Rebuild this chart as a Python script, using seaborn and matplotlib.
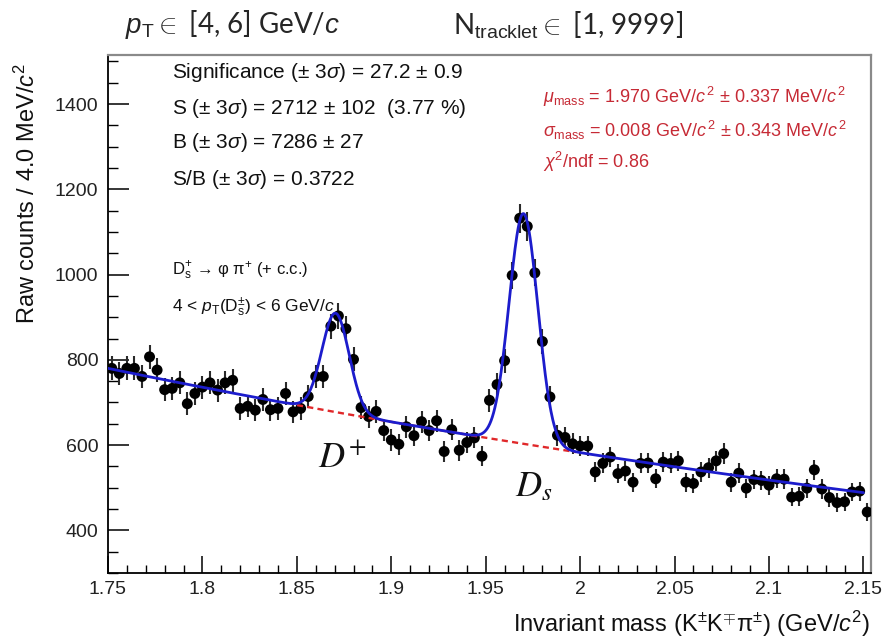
import numpy as np
import pandas as pd
import matplotlib
matplotlib.use("Agg")
import matplotlib.pyplot as plt
import seaborn as sns
from matplotlib.ticker import MultipleLocator, FuncFormatter

# ---------------- data ----------------
bin_first_center = 1.752
bin_width = 0.004
counts = [780, 768, 780, 780, 761, 807, 776, 730, 733, 746,
          697, 721, 736, 746, 729, 746, 752, 686, 691, 682,
          707, 683, 686, 721, 678, 686, 714, 761, 761, 879,
          903, 873, 801, 688, 667, 679, 634, 612, 602, 643,
          622, 655, 634, 657, 585, 636, 588, 606, 617, 574,
          705, 742, 798, 998, 1132, 1113, 1004, 843, 713, 623,
          618, 603, 598, 598, 537, 557, 572, 533, 539, 513,
          557, 558, 521, 560, 557, 563, 513, 510, 537, 547,
          563, 580, 513, 534, 499, 519, 517, 506, 521, 520,
          478, 480, 499, 542, 497, 477, 465, 467, 490, 492, 443]

# fit parameters (exponential background + two gaussians)
bg_norm, bg_slope, bg_ref = 780.0, -1.17, 1.75
dplus_amp, dplus_mu, dplus_sigma = 232.0, 1.8705, 0.0072
ds_amp, ds_mu, ds_sigma = 540.0, 1.970, 0.0076

x_ticks_fmt = "%g"

# ---------------- style ----------------
sns.set_theme(style="ticks")
plt.rcParams["font.family"] = ["Liberation Sans", "DejaVu Sans"]
plt.rcParams["mathtext.fontset"] = "custom"
plt.rcParams["mathtext.rm"] = "Liberation Sans"
plt.rcParams["mathtext.it"] = "Liberation Sans:italic"
plt.rcParams["mathtext.bf"] = "Liberation Sans:bold"

mass = bin_first_center + bin_width * np.arange(len(counts))
df = pd.DataFrame({"mass": mass, "counts": counts})
df["err"] = np.sqrt(df["counts"])

xf = np.linspace(1.75, 2.15, 1200)
bg = bg_norm * np.exp(bg_slope * (xf - bg_ref))
total = (bg + dplus_amp * np.exp(-0.5 * ((xf - dplus_mu) / dplus_sigma) ** 2)
         + ds_amp * np.exp(-0.5 * ((xf - ds_mu) / ds_sigma) ** 2))
fit_df = pd.DataFrame({"mass": xf, "total": total, "bg": bg})
bg_part = fit_df[(fit_df.mass >= 1.850) & (fit_df.mass <= 1.998)]

fig = plt.figure(figsize=(8.83, 6.38), dpi=100)
ax = fig.add_axes([0.1223, 0.1019, 0.8641, 0.8119])

ax.errorbar(df["mass"], df["counts"], yerr=df["err"], fmt="none",
            ecolor="#2a2a2a", elinewidth=1.5, capsize=0, zorder=2)
sns.scatterplot(data=df, x="mass", y="counts", ax=ax, color="black",
                s=62, edgecolor="none", zorder=3, legend=False)
ax.plot(bg_part["mass"], bg_part["bg"], color="#e0282a", lw=1.7,
        dashes=(2.6, 1.8), zorder=4)
sns.lineplot(data=fit_df, x="mass", y="total", ax=ax, color="#1c1ccc",
             lw=2.0, zorder=5, estimator=None, sort=False)

ax.set_xlim(1.75, 2.154)
ax.set_ylim(300, 1515)
ax.set_xlabel("")
ax.set_ylabel("")

ax.xaxis.set_major_locator(MultipleLocator(0.05))
ax.xaxis.set_minor_locator(MultipleLocator(0.01))
ax.yaxis.set_major_locator(MultipleLocator(200))
ax.yaxis.set_minor_locator(MultipleLocator(50))
ax.xaxis.set_major_formatter(FuncFormatter(lambda v, p: x_ticks_fmt % round(v, 3)))
ax.tick_params(axis="x", which="major", direction="in", length=12, width=1.1,
               labelsize=14, pad=6, color="black", labelcolor="#222222")
ax.tick_params(axis="x", which="minor", direction="in", length=6, width=1.0,
               color="black")
ax.tick_params(axis="y", which="major", direction="in", length=15, width=1.1,
               labelsize=14, pad=7, color="black", labelcolor="#222222")
ax.tick_params(axis="y", which="minor", direction="in", length=7, width=1.0,
               color="black")
for side in ["left", "bottom"]:
    ax.spines[side].set_color("black")
    ax.spines[side].set_linewidth(1.3)
for side in ["top", "right"]:
    ax.spines[side].set_color("#8a8a8a")
    ax.spines[side].set_linewidth(1.6)

# ---------------- texts ----------------
title_fam = ["Lato", "DejaVu Sans"]
fig.text(0.141, 0.961, r"$p_{\mathrm{T}} \in$ [4, 6] GeV/$c$", fontsize=20,
         family=title_fam, ha="left", va="center")
fig.text(0.513, 0.961, r"N$_{\mathrm{tracklet}} \in$ [1, 9999]", fontsize=20,
         family=title_fam, ha="left", va="center")

fig.text(0.031, 0.697, r"Raw counts / 4.0 MeV/$c^{2}$", rotation=90,
         fontsize=17, ha="center", va="center", color="#111111")
fig.text(0.985, 0.022, r"Invariant mass (K$^{\pm}$K$^{\mp}$π$^{\pm}$) (GeV/$c^{2}$)",
         fontsize=17, ha="right", va="center", color="#111111")

stats = [r"Significance ($\pm$ 3$\sigma$) = 27.2 ± 0.9",
         r"S ($\pm$ 3$\sigma$) = 2712 ± 102  (3.77 %)",
         r"B ($\pm$ 3$\sigma$) = 7286 ± 27",
         r"S/B ($\pm$ 3$\sigma$) = 0.3722"]
for txt, yy in zip(stats, [0.8856, 0.8307, 0.7759, 0.7179]):
    fig.text(0.195, yy, txt, fontsize=15, ha="left", va="center", color="#111111")

red = "#c62a35"
fit_txt = [r"$\mu_{\mathrm{mass}}$ = 1.970 GeV/$c^{\,2}$ ± 0.337 MeV/$c^{\,2}$",
           r"$\sigma_{\mathrm{mass}}$ = 0.008 GeV/$c^{\,2}$ ± 0.343 MeV/$c^{\,2}$",
           r"$\chi^{2}$/ndf = 0.86"]
for txt, yy in zip(fit_txt, [0.848, 0.796, 0.746]):
    fig.text(0.615, yy, txt, fontsize=13, ha="left", va="center", color=red)

fig.text(0.195, 0.575, r"D$_{\mathrm{s}}^{+}$ → φ π$^{+}$ (+ c.c.)", fontsize=12,
         ha="left", va="center", color="#111111")
fig.text(0.195, 0.519, r"4 < $p_{\mathrm{T}}$(D$_{\mathrm{s}}^{\pm}$) < 6 GeV/$c$",
         fontsize=12.5, ha="left", va="center", color="#111111")

fig.text(0.360, 0.282, r"$D^{+}$", fontsize=26, ha="left", va="center",
         math_fontfamily="stix", color="#111111")
fig.text(0.583, 0.237, r"$D_{s}$", fontsize=26, ha="left", va="center",
         math_fontfamily="stix", color="#111111")

fig.savefig("out.png", dpi=100)
